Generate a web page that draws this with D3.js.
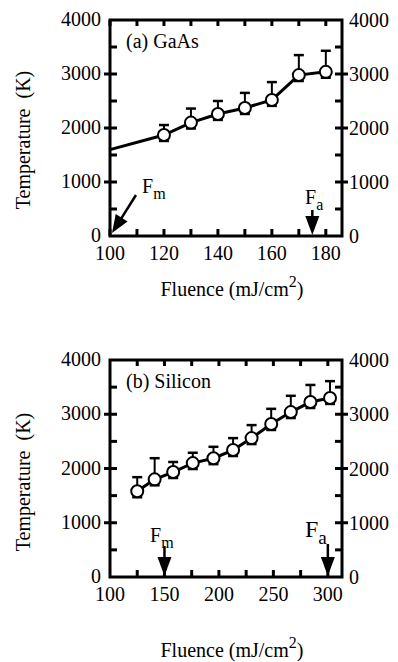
<!DOCTYPE html>
<html>
<head>
<meta charset="utf-8">
<script src="https://cdn.jsdelivr.net/npm/d3@7"></script>
<style>
  body { margin: 0; background: #fff; }
  svg text { font-family: "Liberation Serif", "DejaVu Serif", serif; fill: #000; }
</style>
</head>
<body>
<svg id="chart" width="398" height="662" font-family="Liberation Serif, DejaVu Serif, serif"></svg>
<script>
// (a) GaAs
const gaasFluence = [120, 130, 140, 150, 160, 170, 180];
const gaasTemp    = [1870, 2100, 2260, 2370, 2520, 2980, 3040];
const gaasErrUp   = [185, 260, 240, 280, 330, 370, 390];
const gaasErrDown = [110, 110, 110, 110, 110, 110, 110];
const gaasLead    = [100, 1600];          // line runs in from the left axis
const gaasXTicks  = [100, 110, 120, 130, 140, 150, 160, 170, 180];
const gaasXLabels = [100, 120, 140, 160, 180];

// (b) Silicon
const siFluence = [125, 141, 158, 176, 195, 213, 230, 248, 266, 284, 302];
const siTemp    = [1580, 1800, 1935, 2100, 2190, 2340, 2560, 2820, 3040, 3225, 3300];
const siErrUp   = [260, 390, 185, 190, 210, 220, 240, 280, 300, 315, 310];
const siErrDown = [110, 110, 110, 110, 110, 110, 110, 110, 110, 110, 110];
const siXTicks  = [125, 150, 175, 200, 225, 250, 275, 300];
const siXLabels = [100, 150, 200, 250, 300];

const yTicks  = [500, 1000, 1500, 2000, 2500, 3000, 3500];
const yLabels = [0, 1000, 2000, 3000, 4000];

const svg = d3.select("#chart");

function drawPanel(cfg) {
  const x = d3.scaleLinear().domain(cfg.xDomain).range([110, 342]);
  const y = d3.scaleLinear().domain([0, 4000]).range([cfg.bottom, cfg.top]);
  const g = svg.append("g");

  // frame
  g.append("rect")
    .attr("x", x.range()[0]).attr("y", y(4000))
    .attr("width", x.range()[1] - x.range()[0]).attr("height", y(0) - y(4000))
    .attr("fill", "none").attr("stroke", "#000").attr("stroke-width", 3);

  // x ticks (bottom and top, inward)
  g.selectAll(".xt").data(cfg.xTicks).enter().append("line")
    .attr("x1", d => x(d)).attr("x2", d => x(d))
    .attr("y1", y(0)).attr("y2", y(0) - 7)
    .attr("stroke", "#000").attr("stroke-width", 3);
  g.selectAll(".xtt").data(cfg.xTicks).enter().append("line")
    .attr("x1", d => x(d)).attr("x2", d => x(d))
    .attr("y1", y(4000)).attr("y2", y(4000) + 6)
    .attr("stroke", "#000").attr("stroke-width", 3);

  // y ticks on both sides: major cross the axis, minor point inward
  [[x.range()[0], 1], [x.range()[1], -1]].forEach(([ax, dir]) => {
    g.selectAll(null).data(yTicks).enter().append("line")
      .attr("x1", d => d % 1000 === 0 ? ax - 6 * dir : ax)
      .attr("x2", d => ax + 7 * dir)
      .attr("y1", d => y(d)).attr("y2", d => y(d))
      .attr("stroke", "#000").attr("stroke-width", 3);
  });

  // tick labels
  g.selectAll(".xl").data(cfg.xLabels).enter().append("text")
    .attr("x", d => x(d)).attr("y", y(0) + 24)
    .attr("text-anchor", "middle").attr("font-size", 20).text(d => d);
  g.selectAll(".yl").data(yLabels).enter().append("text")
    .attr("x", 101).attr("y", d => y(d) + 6)
    .attr("text-anchor", "end").attr("font-size", 20).text(d => d);
  g.selectAll(".yr").data(yLabels).enter().append("text")
    .attr("x", 349).attr("y", d => y(d) + 7)
    .attr("text-anchor", "start").attr("font-size", 20).text(d => d);

  // axis titles
  g.append("text")
    .attr("transform", `translate(30, ${cfg.yTitleY}) rotate(-90)`)
    .attr("text-anchor", "middle").attr("font-size", 20)
    .attr("xml:space", "preserve").text("Temperature  (K)");
  const xt = g.append("text")
    .attr("x", 232).attr("y", cfg.xTitleY)
    .attr("text-anchor", "middle").attr("font-size", 20);
  xt.append("tspan").text("Fluence (mJ/cm");
  xt.append("tspan").attr("dy", -9).attr("font-size", 16).text("2");
  xt.append("tspan").attr("dy", 9).text(")");

  // panel label
  g.append("text").attr("x", 126).attr("y", y(4000) + 28)
    .attr("font-size", 20).text(cfg.title);

  // data line
  const pts = cfg.fluence.map((f, i) => [f, cfg.temp[i]]);
  if (cfg.lead) pts.unshift(cfg.lead);
  g.append("path")
    .attr("d", d3.line().x(d => x(d[0])).y(d => y(d[1]))(pts))
    .attr("fill", "none").attr("stroke", "#000").attr("stroke-width", 3);

  // error bars
  const eb = g.selectAll(".eb").data(cfg.fluence).enter().append("g");
  eb.append("line")
    .attr("x1", d => x(d)).attr("x2", d => x(d))
    .attr("y1", (d, i) => y(cfg.temp[i] - cfg.errDown[i]))
    .attr("y2", (d, i) => y(cfg.temp[i] + cfg.errUp[i]))
    .attr("stroke", "#000").attr("stroke-width", 2);
  eb.append("line")
    .attr("x1", d => x(d) - 5).attr("x2", d => x(d) + 5)
    .attr("y1", (d, i) => y(cfg.temp[i] + cfg.errUp[i]))
    .attr("y2", (d, i) => y(cfg.temp[i] + cfg.errUp[i]))
    .attr("stroke", "#000").attr("stroke-width", 2.5);
  eb.append("line")
    .attr("x1", d => x(d) - 5).attr("x2", d => x(d) + 5)
    .attr("y1", (d, i) => y(cfg.temp[i] - cfg.errDown[i]))
    .attr("y2", (d, i) => y(cfg.temp[i] - cfg.errDown[i]))
    .attr("stroke", "#000").attr("stroke-width", 2.5);

  // markers
  g.selectAll(".pt").data(cfg.fluence).enter().append("circle")
    .attr("cx", d => x(d)).attr("cy", (d, i) => y(cfg.temp[i]))
    .attr("r", 6).attr("fill", "#fff").attr("stroke", "#000").attr("stroke-width", 2);

  // threshold arrows
  cfg.arrows.forEach(a => {
    const tx = x(a.at), ty = y(0);
    const lab = g.append("text").attr("x", a.lx).attr("y", a.ly).attr("font-size", a.size);
    lab.append("tspan").text("F");
    lab.append("tspan").attr("dy", a.size * 0.3).attr("font-size", a.size * 0.8).text(a.sub);
    if (a.diag) {
      const sx = tx + 26, sy = ty - 41;
      const ang = Math.atan2(ty - sy, tx - sx);
      const hx = tx + 2, hy = ty - 3;
      g.append("line").attr("x1", sx).attr("y1", sy)
        .attr("x2", hx - 12 * Math.cos(ang)).attr("y2", hy - 12 * Math.sin(ang))
        .attr("stroke", "#000").attr("stroke-width", 2.5);
      const L = 18, Wd = 7;
      const bx = hx - L * Math.cos(ang), by = hy - L * Math.sin(ang);
      const nx = -Math.sin(ang), ny = Math.cos(ang);
      g.append("path")
        .attr("d", `M${hx},${hy}L${bx + Wd * nx},${by + Wd * ny}L${bx - Wd * nx},${by - Wd * ny}Z`)
        .attr("fill", "#000");
    } else {
      g.append("line").attr("x1", tx).attr("x2", tx)
        .attr("y1", a.top).attr("y2", ty - 16)
        .attr("stroke", "#000").attr("stroke-width", 2.5);
      g.append("path")
        .attr("d", `M${tx},${ty - 1}L${tx - 7},${ty - 20}L${tx + 7},${ty - 20}Z`)
        .attr("fill", "#000");
    }
  });
}

drawPanel({
  xDomain: [100, 186], top: 20, bottom: 236,
  xTicks: gaasXTicks, xLabels: gaasXLabels,
  fluence: gaasFluence, temp: gaasTemp, errUp: gaasErrUp, errDown: gaasErrDown,
  lead: gaasLead, title: "(a) GaAs", yTitleY: 140, xTitleY: 296,
  arrows: [
    { at: 100, sub: "m", diag: true, lx: 142, ly: 193, size: 20 },
    { at: 175, sub: "a", top: 210, lx: 305, ly: 204, size: 20 }
  ]
});

drawPanel({
  xDomain: [100, 313], top: 360, bottom: 577,
  xTicks: siXTicks, xLabels: siXLabels,
  fluence: siFluence, temp: siTemp, errUp: siErrUp, errDown: siErrDown,
  title: "(b) Silicon", yTitleY: 482, xTitleY: 657,
  arrows: [
    { at: 150, sub: "m", top: 546, lx: 150, ly: 542, size: 20 },
    { at: 300, sub: "a", top: 544, lx: 305, ly: 537, size: 24 }
  ]
});
</script>
</body>
</html>
